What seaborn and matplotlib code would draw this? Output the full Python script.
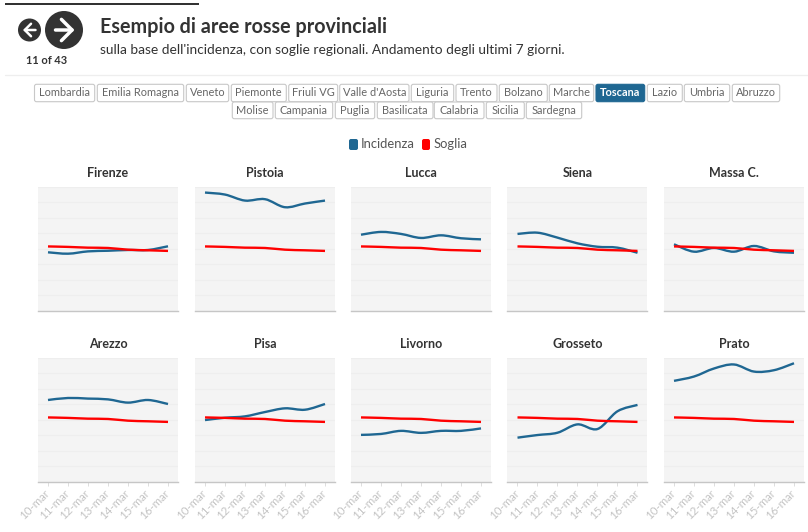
import numpy as np
import pandas as pd
import matplotlib
matplotlib.use('Agg')
import matplotlib.pyplot as plt
import seaborn as sns
from matplotlib.path import Path
from matplotlib.patches import PathPatch, FancyBboxPatch, Circle, Rectangle

# values
days = ['10-mar', '11-mar', '12-mar', '13-mar', '14-mar', '15-mar', '16-mar']
soglia = [4.15, 4.12, 4.07, 4.05, 3.94, 3.90, 3.86]

province = ['Firenze', 'Pistoia', 'Lucca', 'Siena', 'Massa C.',
            'Arezzo', 'Pisa', 'Livorno', 'Grosseto', 'Prato']
firenze = [3.77, 3.68, 3.83, 3.87, 3.92, 3.92, 4.16]
pistoia = [7.64, 7.51, 7.12, 7.21, 6.69, 6.93, 7.12]
lucca = [4.91, 5.09, 4.96, 4.70, 4.87, 4.68, 4.61]
siena = [4.96, 5.04, 4.72, 4.35, 4.13, 4.07, 3.74]
massa = [4.29, 3.81, 4.05, 3.81, 4.18, 3.83, 3.74]
arezzo = [5.28, 5.41, 5.37, 5.32, 5.11, 5.28, 5.02]
pisa = [3.98, 4.13, 4.22, 4.50, 4.74, 4.65, 5.02]
livorno = [3.02, 3.08, 3.28, 3.15, 3.28, 3.28, 3.44]
grosseto = [2.84, 3.01, 3.16, 3.70, 3.40, 4.55, 4.96]
prato = [6.52, 6.80, 7.32, 7.58, 7.12, 7.21, 7.66]
incidenza = [firenze, pistoia, lucca, siena, massa, arezzo, pisa, livorno, grosseto, prato]

regioni_1 = ['Lombardia', 'Emilia Romagna', 'Veneto', 'Piemonte', 'Friuli VG', "Valle d'Aosta",
             'Liguria', 'Trento', 'Bolzano', 'Marche', 'Toscana', 'Lazio', 'Umbria', 'Abruzzo']
regioni_2 = ['Molise', 'Campania', 'Puglia', 'Basilicata', 'Calabria', 'Sicilia', 'Sardegna']

# button edges in pixels
edges_1 = [(34.5, 94.7), (97.3, 183.7), (186.3, 228.7), (231.3, 286.3), (288.7, 337.7), (339.7, 409),
           (411.3, 453.7), (456, 497), (499.3, 547.3), (549.3, 593.7), (596, 644.7), (647.3, 682.3),
           (684.3, 729.7), (732.3, 779.7)]
edges_2 = [(232.3, 273), (275.3, 332.7), (335.3, 374.7), (377.3, 433), (434.3, 484), (486.3, 524.3),
           (526.3, 581.7)]

W, H = 808, 532
BLUE = '#1f6792'
RED = '#ff0000'
DARK = '#333333'

sns.set_theme(style='white')
plt.rcParams['font.family'] = ['Lato', 'DejaVu Sans']

fig = plt.figure(figsize=(W / 100, H / 100), dpi=100, facecolor='white')


def px(size):
    return size * 0.72


def smooth(ax):
    # keeps the seaborn lines' own points, just rounds the corners like the original
    for line in ax.get_lines():
        xy = line.get_xydata()
        verts = [xy[0]]
        codes = [Path.MOVETO]
        for i in range(len(xy) - 1):
            before = xy[max(i - 1, 0)]
            after = xy[min(i + 2, len(xy) - 1)]
            verts += [xy[i] + (xy[i + 1] - before) / 6, xy[i + 1] - (after - xy[i]) / 6, xy[i + 1]]
            codes += [Path.CURVE4] * 3
        ax.add_patch(PathPatch(Path(verts, codes), fill=False, edgecolor=line.get_color(),
                               lw=line.get_linewidth(), capstyle='butt', zorder=line.get_zorder()))
        line.set_visible(False)


lefts = [38, 195, 351, 507.5, 664]
for i, name in enumerate(province):
    row = i // 5
    top = 187 if row == 0 else 358
    ax = fig.add_axes([lefts[i % 5] / W, 1 - (top + 123.5) / H, 140 / W, 123.5 / H])
    df = pd.DataFrame({'giorno': days * 2,
                       'valore': incidenza[i] + soglia,
                       'serie': ['Incidenza'] * 7 + ['Soglia'] * 7})
    sns.lineplot(data=df, x='giorno', y='valore', hue='serie', palette=[BLUE, RED],
                 linewidth=1.7, legend=False, ax=ax, sort=False)
    smooth(ax)
    ax.set_facecolor('#f4f4f4')
    ax.set_xlim(-0.5, 6.5)
    ax.set_ylim(0, 8)
    ax.set_yticks(range(1, 9))
    ax.grid(axis='y', color='#eeeeee', lw=0.9)
    ax.set_axisbelow(True)
    ax.tick_params(left=False, labelleft=False)
    ax.set_xlabel('')
    ax.set_ylabel('')
    for s in ['top', 'left', 'right']:
        ax.spines[s].set_visible(False)
    ax.spines['bottom'].set_color('#c6c6c6')
    ax.spines['bottom'].set_linewidth(1)
    if row == 1:
        ax.set_xticks(range(7))
        ax.set_xticklabels(days, rotation=45, ha='right', va='center', rotation_mode='anchor',
                           fontsize=px(11.5), color='#c4c4c4')
        ax.tick_params(axis='x', bottom=True, length=3, width=0.7, color='#dddddd', pad=4)
    else:
        ax.set_xticks([])
    ax.set_title(name, fontsize=px(12.5), fontweight='bold', color=DARK, y=1, pad=7)

# page furniture on one pixel-scaled overlay
over = fig.add_axes([0, 0, 1, 1], zorder=5)
over.set_xlim(0, W)
over.set_ylim(H, 0)
over.axis('off')

over.add_patch(Rectangle((5, 3), 194, 1.7, color=DARK, lw=0))
over.plot([5, W], [75.3, 75.3], color='#eeeeee', lw=0.9)

over.add_patch(Circle((29.5, 30), 11.5, color=DARK, lw=0))
over.add_patch(Circle((64, 30), 19, color=DARK, lw=0))
over.annotate('', xy=(23, 30), xytext=(35.5, 30),
              arrowprops=dict(arrowstyle='->,head_length=0.45,head_width=0.45', color='white', lw=1.8,
                              mutation_scale=10, shrinkA=0, shrinkB=0))
over.annotate('', xy=(74.5, 30), xytext=(55.5, 30),
              arrowprops=dict(arrowstyle='->,head_length=0.45,head_width=0.45', color='white', lw=2.5,
                              mutation_scale=17, shrinkA=0, shrinkB=0))
over.text(46.5, 60.5, '11 of 43', fontsize=px(11), fontweight='bold', color=DARK, ha='center', va='center')
over.text(100, 27, 'Esempio di aree rosse provinciali', fontsize=px(19.8), fontweight='bold',
          color=DARK, va='center')
over.text(100, 49.5, "sulla base dell'incidenza, con soglie regionali. Andamento degli ultimi 7 giorni.",
          fontsize=px(13.8), color=DARK, va='center')


def buttons(names, edges, y0, y1):
    for name, (x0, x1) in zip(names, edges):
        active = name == 'Toscana'
        over.add_patch(FancyBboxPatch((x0 + 1, y0 + 1), x1 - x0 - 2, y1 - y0 - 2,
                                      boxstyle='round,pad=1,rounding_size=2',
                                      fc=BLUE if active else 'white',
                                      ec=BLUE if active else '#c8c8c8', lw=0.8))
        over.text((x0 + x1) / 2, (y0 + y1) / 2, name, fontsize=px(11),
                  fontweight='bold' if active else 'normal',
                  color='white' if active else '#666666', ha='center', va='center')


buttons(regioni_1, edges_1, 84.3, 101.7)
buttons(regioni_2, edges_2, 102, 118.7)

# legend
over.add_patch(FancyBboxPatch((350, 140), 7, 9, boxstyle='round,pad=1,rounding_size=2', fc=BLUE, lw=0))
over.text(361, 144, 'Incidenza', fontsize=px(13), color='#555555', va='center')
over.add_patch(FancyBboxPatch((423, 140), 6, 9, boxstyle='round,pad=1,rounding_size=2', fc=RED, lw=0))
over.text(434, 144, 'Soglia', fontsize=px(13), color='#555555', va='center')

fig.savefig('out.png', dpi=100)
